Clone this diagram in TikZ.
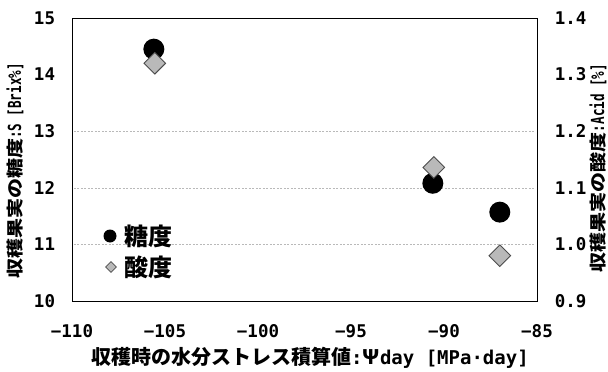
\documentclass[tikz,border=0pt]{standalone}
\usepackage{fontspec}
\usepackage{graphicx}
\setmainfont{Noto Sans CJK JP}
\newfontfamily\cjk{Noto Sans CJK JP}
\newfontfamily\mono{DejaVu Sans Mono}
\usetikzlibrary{shapes.geometric}
\tikzset{
  sugar/.style={circle,fill=black,inner sep=0pt,minimum size=21pt},
  acid/.style={diamond,draw=black!70,fill=gray!55,line width=0.9pt,inner sep=0pt,minimum size=22pt},
  sugarleg/.style={circle,fill=black,inner sep=0pt,minimum size=13pt},
  acidleg/.style={diamond,draw=black!70,fill=gray!55,line width=0.7pt,inner sep=0pt,minimum size=11pt},
  ticklab/.style={font=\mono\bfseries\fontsize{17.5}{20}\selectfont,inner sep=0pt},
  axtitle/.style={inner sep=0pt},
  legtext/.style={font=\cjk\bfseries\fontsize{24}{28}\selectfont,anchor=west,inner sep=0pt},
  gridln/.style={gray!55,dash pattern=on 2pt off 1.5pt,line width=0.5pt}
}
\newcommand{\cjkpart}[1]{{\cjk\bfseries\fontsize{20}{22}\selectfont #1}}
\newcommand{\latpart}[1]{{\mono\bfseries\fontsize{19}{22}\selectfont #1}}
\newcommand{\latrot}[1]{\scalebox{0.7}[1]{\mono\bfseries\fontsize{18}{20}\selectfont #1}}
\begin{document}
\begin{tikzpicture}[x=1pt,y=-1pt]
\useasboundingbox (0,0) rectangle (608,372);
% frame
\node[draw=black,line width=0.8pt,minimum width=465pt,minimum height=283pt,inner sep=0pt,anchor=north west] (frame) at (72,18) {};
\begin{scope}[shift={(72,301)},x=18.6pt,y=56.6pt]
  % faint grid
  \foreach \g in {1,2,3} {\draw[gridln] (0.1,\g) -- (24.9,\g);}
  % data
  \node[sugar] (s1) at (4.4,4.45) {};
  \node[sugar] (s2) at (19.4,2.08) {};
  \node[sugar] (s3) at (23.0,1.57) {};
  \node[acid] (a1) at (4.45,4.2) {};
  \node[acid] (a2) at (19.45,2.36) {};
  \node[acid] (a3) at (23.0,0.8) {};
  % x tick labels
  \foreach \v/\t in {0/−110,5/−105,10/−100,15/−95,20/−90,25/−85}
    \node[ticklab] (xt\v) at (\v,-0.53) {\t};
  % left tick labels
  \foreach \v in {10,...,15}
    \node[ticklab,anchor=east] (yl\v) at (-0.9,\v-10) {\v};
  % right tick labels
  \foreach \v/\t in {0/0.9,1/1.0,2/1.1,3/1.2,4/1.3,5/1.4}
    \node[ticklab,anchor=west] (yr\v) at (0.95+25,\v) {\t};
\end{scope}
% legend
\node[sugarleg] (lg1) at (110,236) {};
\node[legtext] (lt1) at (124,236) {糖度};
\node[acidleg] (lg2) at (111,267) {};
\node[legtext] (lt2) at (124,267) {酸度};
% axis titles
\node[axtitle] (xtitle) at (310,358) {\cjkpart{収穫時の水分ストレス積算値}\latpart{:}\cjkpart{Ψ}\latpart{day [MPa·day]}};
\node[axtitle,rotate=90] (ytitle) at (15,171) {\scalebox{1}[0.85]{\cjkpart{収穫果実の糖度}}\latrot{:S [Brix\%]}};
\node[axtitle,rotate=90] (y2title) at (598,168) {\scalebox{1}[0.85]{\cjkpart{収穫果実の酸度}}\latrot{:Acid [\%]}};
\end{tikzpicture}
\end{document}
